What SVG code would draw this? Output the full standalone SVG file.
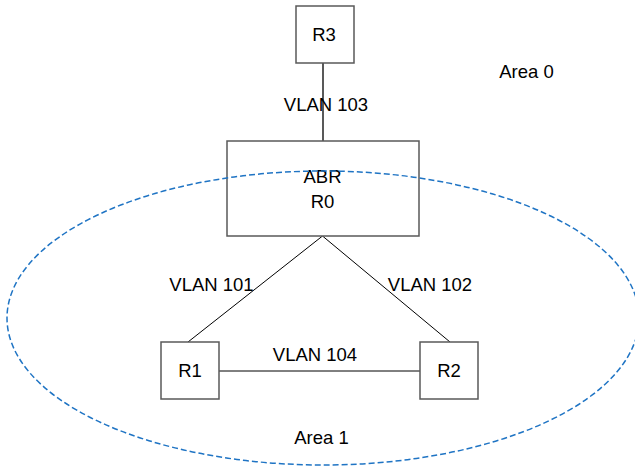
<svg xmlns="http://www.w3.org/2000/svg" width="635" height="467" viewBox="0 0 635 467">
<style>
.node{fill:#fff;stroke:#595959;stroke-width:1.5}
.lbl{font-family:"Liberation Sans",Arial,sans-serif;font-size:18.5px;fill:#000;text-anchor:middle}
.link{stroke:#000;stroke-width:1;fill:none}
.thick{stroke:#595959;stroke-width:2;fill:none}
.area{fill:none;stroke:#1F74C4;stroke-width:1.5;stroke-dasharray:6 3}
</style>
<rect width="635" height="467" fill="#fff"/>
<g id="connectors">
<line class="thick" x1="323" y1="63" x2="323" y2="141"/>
<line class="link" x1="322.5" y1="236" x2="188" y2="342"/>
<line class="link" x1="322.5" y1="236" x2="450" y2="342"/>
<line class="link" x1="219" y1="371" x2="420" y2="371"/>
</g>
<g id="R3"><rect class="node" x="296" y="6" width="58" height="57"/><text class="lbl" x="324" y="41">R3</text></g>
<g id="R0"><rect class="node" x="227" y="141" width="192" height="95"/><text class="lbl" x="322.5" y="183">ABR</text><text class="lbl" x="322.5" y="208">R0</text></g>
<g id="R1"><rect class="node" x="161" y="342" width="58" height="57"/><text class="lbl" x="190" y="377">R1</text></g>
<g id="R2"><rect class="node" x="420" y="342" width="58" height="57"/><text class="lbl" x="449" y="377">R2</text></g>
<g id="area1"><ellipse class="area" cx="323" cy="318" rx="316" ry="147"/></g>
<g id="labels">
<text class="lbl" x="326" y="111">VLAN 103</text>
<text class="lbl" x="211.5" y="291">VLAN 101</text>
<text class="lbl" x="430" y="291">VLAN 102</text>
<text class="lbl" x="315" y="361">VLAN 104</text>
<text class="lbl" x="526.5" y="78">Area 0</text>
<text class="lbl" x="321.5" y="444">Area 1</text>
</g>
</svg>
